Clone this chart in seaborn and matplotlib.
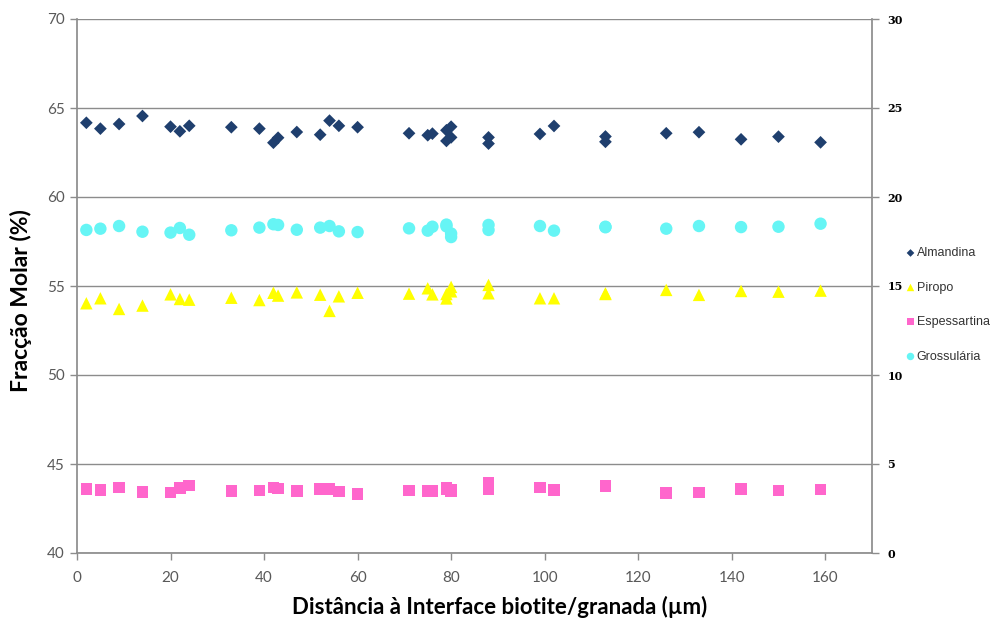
import matplotlib
matplotlib.use("Agg")
import matplotlib.pyplot as plt
import seaborn as sns
import pandas as pd

distance = [2, 5, 9, 14, 20, 22, 24, 33, 39, 42, 43, 47, 52, 54, 56, 60, 71, 75, 76,
            79, 79, 80, 80, 88, 88, 99, 102, 113, 113, 126, 133, 142, 150, 159]

almandina = [64.17, 63.84, 64.10, 64.55, 63.95, 63.69, 64.00, 63.92, 63.84, 63.05, 63.33,
             63.65, 63.50, 64.29, 64.00, 63.92, 63.58, 63.47, 63.56, 63.75, 63.15, 63.95,
             63.35, 63.35, 63.00, 63.54, 63.99, 63.40, 63.10, 63.58, 63.64, 63.24, 63.39, 63.07]

piropo = [14.03, 14.31, 13.71, 13.90, 14.53, 14.27, 14.23, 14.34, 14.21, 14.62, 14.46,
          14.64, 14.51, 13.60, 14.42, 14.62, 14.57, 14.87, 14.53, 14.30, 14.55, 14.95,
          14.70, 15.06, 14.59, 14.31, 14.31, 14.59, 14.55, 14.78, 14.50, 14.72, 14.68, 14.74]

espessartina = [3.58, 3.54, 3.69, 3.43, 3.39, 3.65, 3.80, 3.47, 3.52, 3.69, 3.63,
                3.47, 3.60, 3.60, 3.45, 3.33, 3.52, 3.47, 3.47, 3.67, 3.60, 3.54,
                3.50, 3.97, 3.60, 3.69, 3.54, 3.80, 3.78, 3.37, 3.39, 3.60, 3.52, 3.56]

grossularia = [18.15, 18.22, 18.37, 18.05, 18.00, 18.26, 17.88, 18.13, 18.28, 18.47, 18.43,
               18.16, 18.28, 18.37, 18.07, 18.03, 18.24, 18.11, 18.33, 18.45, 18.35, 17.95,
               17.75, 18.43, 18.15, 18.37, 18.11, 18.33, 18.30, 18.22, 18.37, 18.31, 18.33, 18.50]

x_ticks = [0, 20, 40, 60, 80, 100, 120, 140, 160]
left_ticks = [40, 45, 50, 55, 60, 65, 70]
right_ticks = [0, 5, 10, 15, 20, 25, 30]

df = pd.DataFrame({"dist": distance, "Almandina": almandina, "Piropo": piropo,
                   "Espessartina": espessartina, "Grossulária": grossularia})

sns.set_theme(style="white")
plt.rcParams["font.family"] = ["Lato", "DejaVu Sans"]

fig = plt.figure(figsize=(10.02, 6.22), dpi=100)
ax = fig.add_axes([77/1002, 1-553/622, (872-77)/1002, (553-19)/622])
ax2 = ax.twinx()

sns.scatterplot(data=df, x="dist", y="Almandina", ax=ax, marker="D", color="#1F3F6E",
                s=42, edgecolor="none", label="Almandina", legend=False, zorder=3)
sns.scatterplot(data=df, x="dist", y="Piropo", ax=ax2, marker="^", color="#FFFF00",
                s=80, edgecolor="none", label="Piropo", legend=False, zorder=3)
sns.scatterplot(data=df, x="dist", y="Espessartina", ax=ax2, marker="s", color="#FF66CC",
                s=70, edgecolor="none", label="Espessartina", legend=False, zorder=3)
sns.scatterplot(data=df, x="dist", y="Grossulária", ax=ax2, marker="o", color="#66F5F5",
                s=80, edgecolor="none", label="Grossulária", legend=False, zorder=3)

ax.set_xlim(0, 170)
ax.set_ylim(40, 70)
ax2.set_ylim(0, 30)
ax.set_xticks(x_ticks)
ax.set_yticks(left_ticks)
ax2.set_yticks(right_ticks)

grid_c = "#8C8C8C"
ax.yaxis.grid(True, color=grid_c, linewidth=1.0)
ax.xaxis.grid(False)
ax2.grid(False)
ax.set_axisbelow(True)

for a in (ax, ax2):
    for s in a.spines.values():
        s.set_visible(False)
ax.spines["left"].set_visible(True)
ax.spines["left"].set_color(grid_c)
ax.spines["bottom"].set_visible(True)
ax.spines["bottom"].set_color(grid_c)
ax2.spines["right"].set_visible(True)
ax2.spines["right"].set_color(grid_c)

ax.tick_params(axis="both", which="major", direction="out", length=5, width=1,
               color=grid_c, labelcolor="#595959", labelsize=11, pad=8, left=True, bottom=True)
ax.tick_params(axis="y", pad=4)
ax2.tick_params(axis="y", direction="out", length=5, width=1, color=grid_c,
                labelcolor="#000000", labelsize=8, pad=6, right=True)
for lab in ax2.get_yticklabels():
    lab.set_fontfamily("DejaVu Serif")
    lab.set_fontweight("bold")

ax.set_xlabel("Distância à Interface biotite/granada (µm)", fontsize=16, fontweight="bold",
              color="#000000")
ax.xaxis.set_label_coords((500-77)/(872-77), -0.08)
ax.set_ylabel("Fracção Molar (%)", fontsize=16.5, fontweight="bold", color="#000000")
ax.yaxis.set_label_coords(-0.057, 0.472)
ax2.set_ylabel("")

h1, l1 = ax.get_legend_handles_labels()
h2, l2 = ax2.get_legend_handles_labels()
leg = fig.legend(h1 + h2, l1 + l2, loc="center left", bbox_to_anchor=(898/1002, 1-305/622),
                 frameon=False, fontsize=9, labelspacing=1.8, handletextpad=0.0,
                 handlelength=1.0, borderpad=0, markerscale=0.6)
for t in leg.get_texts():
    t.set_fontfamily("Liberation Sans")
    t.set_color("#333333")

fig.savefig("out.png", dpi=100)
